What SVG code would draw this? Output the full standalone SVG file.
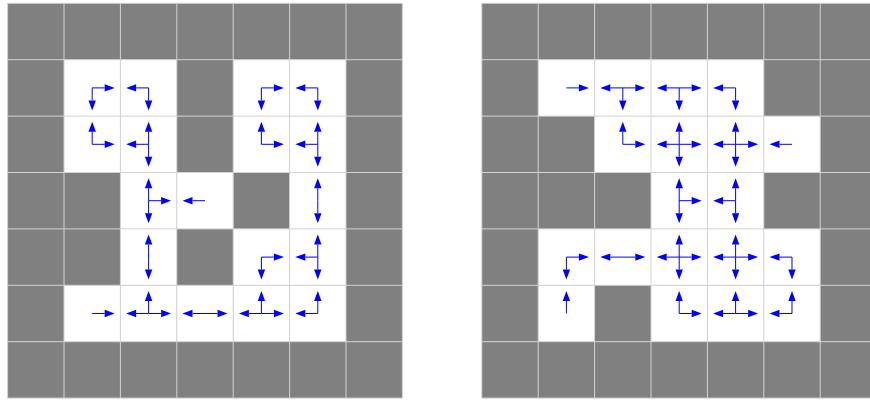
<svg xmlns="http://www.w3.org/2000/svg" xmlns:xlink="http://www.w3.org/1999/xlink" width="870" height="403" viewBox="0 0 870 403">
<style>
.bg{fill:#808080}
.w{fill:#fff}
.gl{fill:none;stroke:#d3d3d3;stroke-width:1}
use{fill:none;stroke:#00f;stroke-width:1;marker-end:url(#h)}
</style>
<defs>
<marker id="h" markerUnits="userSpaceOnUse" markerWidth="10" markerHeight="7.4" viewBox="0 0 10 7.4" refX="0" refY="3.7" orient="auto" overflow="visible"><path d="M0 0L10 3.7L0 7.4z" fill="#00f" stroke="none"/></marker>
<path id="R" d="M28.2 28.2h12.5"/>
<path id="L" d="M28.2 28.2h-12.5"/>
<path id="D" d="M28.2 28.2v12.5"/>
<path id="U" d="M28.2 28.2v-12.5"/>
<path id="grid" d="M0 0v394.8M56.4 0v394.8M112.8 0v394.8M169.2 0v394.8M225.6 0v394.8M282 0v394.8M338.4 0v394.8M394.8 0v394.8M0 0h394.8M0 56.4h394.8M0 112.8h394.8M0 169.2h394.8M0 225.6h394.8M0 282h394.8M0 338.4h394.8M0 394.8h394.8"/>
</defs>
<rect width="870" height="403" fill="#fff"/>

<g id="left-grid" transform="translate(7.6,3.3)">
<rect class="bg" width="394.8" height="394.8"/>
<g id="L-r1c1" transform="translate(56.4,56.4)"><rect class="w" width="56.4" height="56.4"/><use href="#R"/><use href="#D"/></g>
<g id="L-r1c2" transform="translate(112.8,56.4)"><rect class="w" width="56.4" height="56.4"/><use href="#L"/><use href="#D"/></g>
<g id="L-r1c4" transform="translate(225.6,56.4)"><rect class="w" width="56.4" height="56.4"/><use href="#R"/><use href="#D"/></g>
<g id="L-r1c5" transform="translate(282,56.4)"><rect class="w" width="56.4" height="56.4"/><use href="#L"/><use href="#D"/></g>
<g id="L-r2c1" transform="translate(56.4,112.8)"><rect class="w" width="56.4" height="56.4"/><use href="#U"/><use href="#R"/></g>
<g id="L-r2c2" transform="translate(112.8,112.8)"><rect class="w" width="56.4" height="56.4"/><use href="#U"/><use href="#L"/><use href="#D"/></g>
<g id="L-r2c4" transform="translate(225.6,112.8)"><rect class="w" width="56.4" height="56.4"/><use href="#U"/><use href="#R"/></g>
<g id="L-r2c5" transform="translate(282,112.8)"><rect class="w" width="56.4" height="56.4"/><use href="#U"/><use href="#L"/><use href="#D"/></g>
<g id="L-r3c2" transform="translate(112.8,169.2)"><rect class="w" width="56.4" height="56.4"/><use href="#U"/><use href="#D"/><use href="#R"/></g>
<g id="L-r3c3" transform="translate(169.2,169.2)"><rect class="w" width="56.4" height="56.4"/><use href="#L"/></g>
<g id="L-r3c5" transform="translate(282,169.2)"><rect class="w" width="56.4" height="56.4"/><use href="#U"/><use href="#D"/></g>
<g id="L-r4c2" transform="translate(112.8,225.6)"><rect class="w" width="56.4" height="56.4"/><use href="#U"/><use href="#D"/></g>
<g id="L-r4c4" transform="translate(225.6,225.6)"><rect class="w" width="56.4" height="56.4"/><use href="#R"/><use href="#D"/></g>
<g id="L-r4c5" transform="translate(282,225.6)"><rect class="w" width="56.4" height="56.4"/><use href="#U"/><use href="#L"/><use href="#D"/></g>
<g id="L-r5c1" transform="translate(56.4,282)"><rect class="w" width="56.4" height="56.4"/><use href="#R"/></g>
<g id="L-r5c2" transform="translate(112.8,282)"><rect class="w" width="56.4" height="56.4"/><use href="#L"/><use href="#U"/><use href="#R"/></g>
<g id="L-r5c3" transform="translate(169.2,282)"><rect class="w" width="56.4" height="56.4"/><use href="#L"/><use href="#R"/></g>
<g id="L-r5c4" transform="translate(225.6,282)"><rect class="w" width="56.4" height="56.4"/><use href="#L"/><use href="#U"/><use href="#R"/></g>
<g id="L-r5c5" transform="translate(282,282)"><rect class="w" width="56.4" height="56.4"/><use href="#L"/><use href="#U"/></g>
<path class="gl" d="M0 0v394.8M56.4 0v394.8M112.8 0v394.8M169.2 0v394.8M225.6 0v394.8M282 0v394.8M338.4 0v394.8M394.8 0v394.8M0 0h394.8M0 56.4h394.8M0 112.8h394.8M0 169.2h394.8M0 225.6h394.8M0 282h394.8M0 338.4h394.8M0 394.8h394.8"/>
</g>

<g id="right-grid" transform="translate(481.8,3.3)">
<rect class="bg" width="394.8" height="394.8"/>
<g id="R-r1c1" transform="translate(56.4,56.4)"><rect class="w" width="56.4" height="56.4"/><use href="#R"/></g>
<g id="R-r1c2" transform="translate(112.8,56.4)"><rect class="w" width="56.4" height="56.4"/><use href="#L"/><use href="#R"/><use href="#D"/></g>
<g id="R-r1c3" transform="translate(169.2,56.4)"><rect class="w" width="56.4" height="56.4"/><use href="#L"/><use href="#R"/><use href="#D"/></g>
<g id="R-r1c4" transform="translate(225.6,56.4)"><rect class="w" width="56.4" height="56.4"/><use href="#L"/><use href="#D"/></g>
<g id="R-r2c2" transform="translate(112.8,112.8)"><rect class="w" width="56.4" height="56.4"/><use href="#U"/><use href="#R"/></g>
<g id="R-r2c3" transform="translate(169.2,112.8)"><rect class="w" width="56.4" height="56.4"/><use href="#U"/><use href="#L"/><use href="#R"/><use href="#D"/></g>
<g id="R-r2c4" transform="translate(225.6,112.8)"><rect class="w" width="56.4" height="56.4"/><use href="#U"/><use href="#L"/><use href="#R"/><use href="#D"/></g>
<g id="R-r2c5" transform="translate(282,112.8)"><rect class="w" width="56.4" height="56.4"/><use href="#L"/></g>
<g id="R-r3c3" transform="translate(169.2,169.2)"><rect class="w" width="56.4" height="56.4"/><use href="#U"/><use href="#D"/><use href="#R"/></g>
<g id="R-r3c4" transform="translate(225.6,169.2)"><rect class="w" width="56.4" height="56.4"/><use href="#U"/><use href="#D"/><use href="#L"/></g>
<g id="R-r4c1" transform="translate(56.4,225.6)"><rect class="w" width="56.4" height="56.4"/><use href="#R"/><use href="#D"/></g>
<g id="R-r4c2" transform="translate(112.8,225.6)"><rect class="w" width="56.4" height="56.4"/><use href="#L"/><use href="#R"/></g>
<g id="R-r4c3" transform="translate(169.2,225.6)"><rect class="w" width="56.4" height="56.4"/><use href="#U"/><use href="#L"/><use href="#R"/><use href="#D"/></g>
<g id="R-r4c4" transform="translate(225.6,225.6)"><rect class="w" width="56.4" height="56.4"/><use href="#U"/><use href="#L"/><use href="#R"/><use href="#D"/></g>
<g id="R-r4c5" transform="translate(282,225.6)"><rect class="w" width="56.4" height="56.4"/><use href="#L"/><use href="#D"/></g>
<g id="R-r5c1" transform="translate(56.4,282)"><rect class="w" width="56.4" height="56.4"/><use href="#U"/></g>
<g id="R-r5c3" transform="translate(169.2,282)"><rect class="w" width="56.4" height="56.4"/><use href="#U"/><use href="#R"/></g>
<g id="R-r5c4" transform="translate(225.6,282)"><rect class="w" width="56.4" height="56.4"/><use href="#L"/><use href="#U"/><use href="#R"/></g>
<g id="R-r5c5" transform="translate(282,282)"><rect class="w" width="56.4" height="56.4"/><use href="#L"/><use href="#U"/></g>
<path class="gl" d="M0 0v394.8M56.4 0v394.8M112.8 0v394.8M169.2 0v394.8M225.6 0v394.8M282 0v394.8M338.4 0v394.8M394.8 0v394.8M0 0h394.8M0 56.4h394.8M0 112.8h394.8M0 169.2h394.8M0 225.6h394.8M0 282h394.8M0 338.4h394.8M0 394.8h394.8"/>
</g>
</svg>
